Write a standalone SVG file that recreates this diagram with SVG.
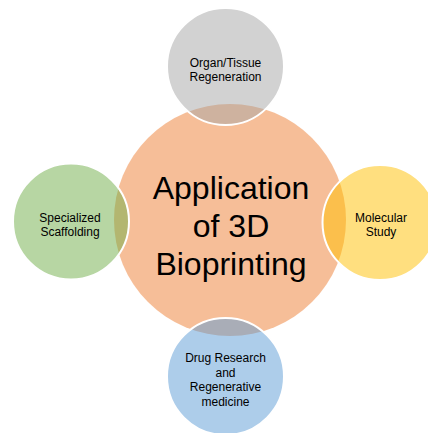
<svg xmlns="http://www.w3.org/2000/svg" width="428" height="433" viewBox="0 0 428 433">
  <style>
    .main { fill: #ED7D31; fill-opacity: 0.5; }
    .sat { fill-opacity: 0.5; stroke: #FFFFFF; stroke-width: 2; }
    .lbl { font-family: "Liberation Sans", Arial, sans-serif; font-size: 12px; fill: #000000; text-anchor: middle; }
    .big { font-family: "Liberation Sans", Arial, sans-serif; font-size: 32px; fill: #000000; text-anchor: middle; }
  </style>
  <rect width="428" height="433" fill="#FFFFFF"/>
  <g id="center">
    <circle class="main" cx="230" cy="220" r="116"/>
    <text class="big" x="231" y="199">Application</text>
    <text class="big" x="231" y="237">of 3D</text>
    <text class="big" x="231" y="275">Bioprinting</text>
  </g>
  <g id="connectors"></g>
  <g id="organ">
    <circle class="sat" cx="225.5" cy="66.5" r="58.5" fill="#A5A5A5"/>
    <text class="lbl" x="225.5" y="67">Organ/Tissue</text>
    <text class="lbl" x="225.5" y="81">Regeneration</text>
  </g>
  <g id="scaffolding">
    <circle class="sat" cx="71" cy="221.5" r="58" fill="#70AD47"/>
    <text class="lbl" x="70" y="222">Specialized</text>
    <text class="lbl" x="70" y="236">Scaffolding</text>
  </g>
  <g id="molecular">
    <circle class="sat" cx="380" cy="222.5" r="57.5" fill="#FFC000"/>
    <text class="lbl" x="381" y="222">Molecular</text>
    <text class="lbl" x="381" y="236">Study</text>
  </g>
  <g id="drug">
    <circle class="sat" cx="225.5" cy="376.5" r="58.5" fill="#5B9BD5"/>
    <text class="lbl" x="225.5" y="362">Drug Research</text>
    <text class="lbl" x="225.5" y="376.5">and</text>
    <text class="lbl" x="225.5" y="391">Regenerative</text>
    <text class="lbl" x="225.5" y="405.5">medicine</text>
  </g>
</svg>
